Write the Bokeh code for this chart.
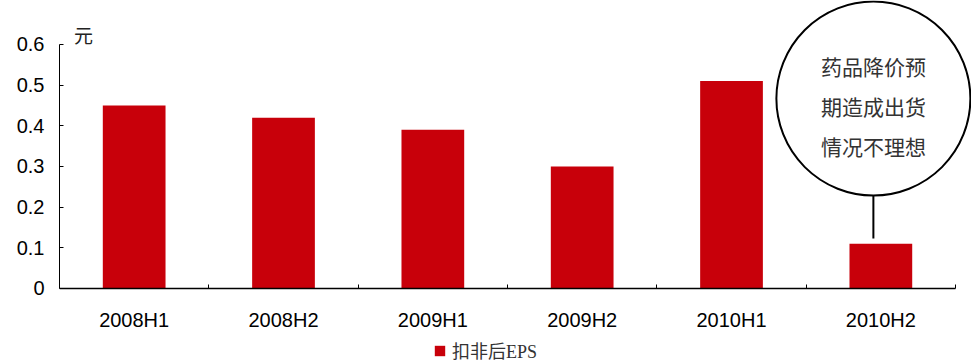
from bokeh.plotting import figure
from bokeh.models import (Range1d, FixedTicker, Legend, LegendItem, ColumnDataSource)
from bokeh.core.properties import value
from bokeh.embed import file_html
from bokeh.resources import INLINE

# ---- data ----
categories = ["2008H1", "2008H2", "2009H1", "2009H2", "2010H1", "2010H2"]
eps = [0.45, 0.42, 0.39, 0.30, 0.51, 0.11]
series_name = "扣非后EPS"
y_ticks = [0, 0.1, 0.2, 0.3, 0.4, 0.5, 0.6]
y_tick_labels = ["0", "0.1", "0.2", "0.3", "0.4", "0.5", "0.6"]
unit_label = "元"
callout_lines = ["药品降价预", "期造成出货", "情况不理想"]

# ---- styling / layout ----
BAR_COLOR = "#C8000A"
SANS = "Liberation Sans, Arial, sans-serif"
SERIF_CJK = "Liberation Serif, Noto Sans CJK SC, serif"
CJK = "Noto Sans CJK SC"

n = len(categories)
centers = [i + 0.5 for i in range(n)]
bounds = list(range(n + 1))

p = figure(width=971, height=363, output_backend="svg", toolbar_location=None,
           x_range=Range1d(0, 6.107), y_range=Range1d(-0.1844, 0.708),
           min_border_left=59, min_border_right=0, min_border_top=0,
           min_border_bottom=0)
p.outline_line_color = None
p.xgrid.visible = False
p.ygrid.visible = False
p.background_fill_color = "white"
p.border_fill_color = "white"

src = ColumnDataSource(dict(x=centers, top=eps, cat=categories))
bars = p.vbar(x="x", top="top", width=0.42, bottom=0, source=src,
              fill_color=BAR_COLOR, line_color=None)

# x axis: labels at centers, ticks at boundaries (minor), fixed at y=0
xa = p.xaxis[0]
xa.fixed_location = 0
xa.ticker = FixedTicker(ticks=centers, minor_ticks=bounds)
xa.major_label_overrides = {c: lab for c, lab in zip(centers, categories)}
xa.bounds = (0, n)
xa.major_tick_in = 0
xa.major_tick_out = 0
xa.minor_tick_in = 4
xa.minor_tick_out = 0
xa.axis_line_color = "black"
xa.axis_line_width = 1.5
xa.major_label_text_font = SANS
xa.major_label_text_font_size = "20px"
xa.major_label_text_color = "black"
xa.major_label_standoff = 21

ya = p.yaxis[0]
ya.ticker = FixedTicker(ticks=y_ticks, minor_ticks=[])
ya.major_label_overrides = {t: lab for t, lab in zip(y_ticks, y_tick_labels)}
ya.bounds = (0, 0.6)
ya.major_tick_in = 4
ya.major_tick_out = 0
ya.axis_line_color = "black"
ya.major_label_text_font = SANS
ya.major_label_text_font_size = "20px"
ya.major_label_text_color = "black"
ya.major_label_standoff = 15

# unit label
p.text(x=[0.16], y=[0.62], text=[unit_label], text_font=value(SERIF_CJK),
       text_font_size="19px", text_color="#222222", text_align="center",
       text_baseline="middle")

# callout
cx = 5.45
p.segment(x0=[cx], y0=[0.229], x1=[cx], y1=[0.123], line_color="black", line_width=2)
p.scatter(x=[cx], y=[0.467], size=194, marker="circle", fill_color="white",
          line_color="black", line_width=2)
p.text(x=[cx] * 3, y=[0.548, 0.448, 0.350], text=callout_lines,
       text_font=value(CJK), text_font_size="21px", text_color="#333333",
       text_align="center", text_baseline="middle")

legend = Legend(items=[LegendItem(label=series_name, renderers=[bars])],
                location=(374, 0), orientation="horizontal",
                padding=0, margin=0, spacing=0,
                glyph_width=13, glyph_height=13, label_standoff=6,
                label_text_font=SERIF_CJK, label_text_font_size="18px",
                label_text_color="#333333",
                border_line_alpha=0, background_fill_alpha=0)
p.add_layout(legend, "center")

open("out.html", "w").write(file_html(p, INLINE))
